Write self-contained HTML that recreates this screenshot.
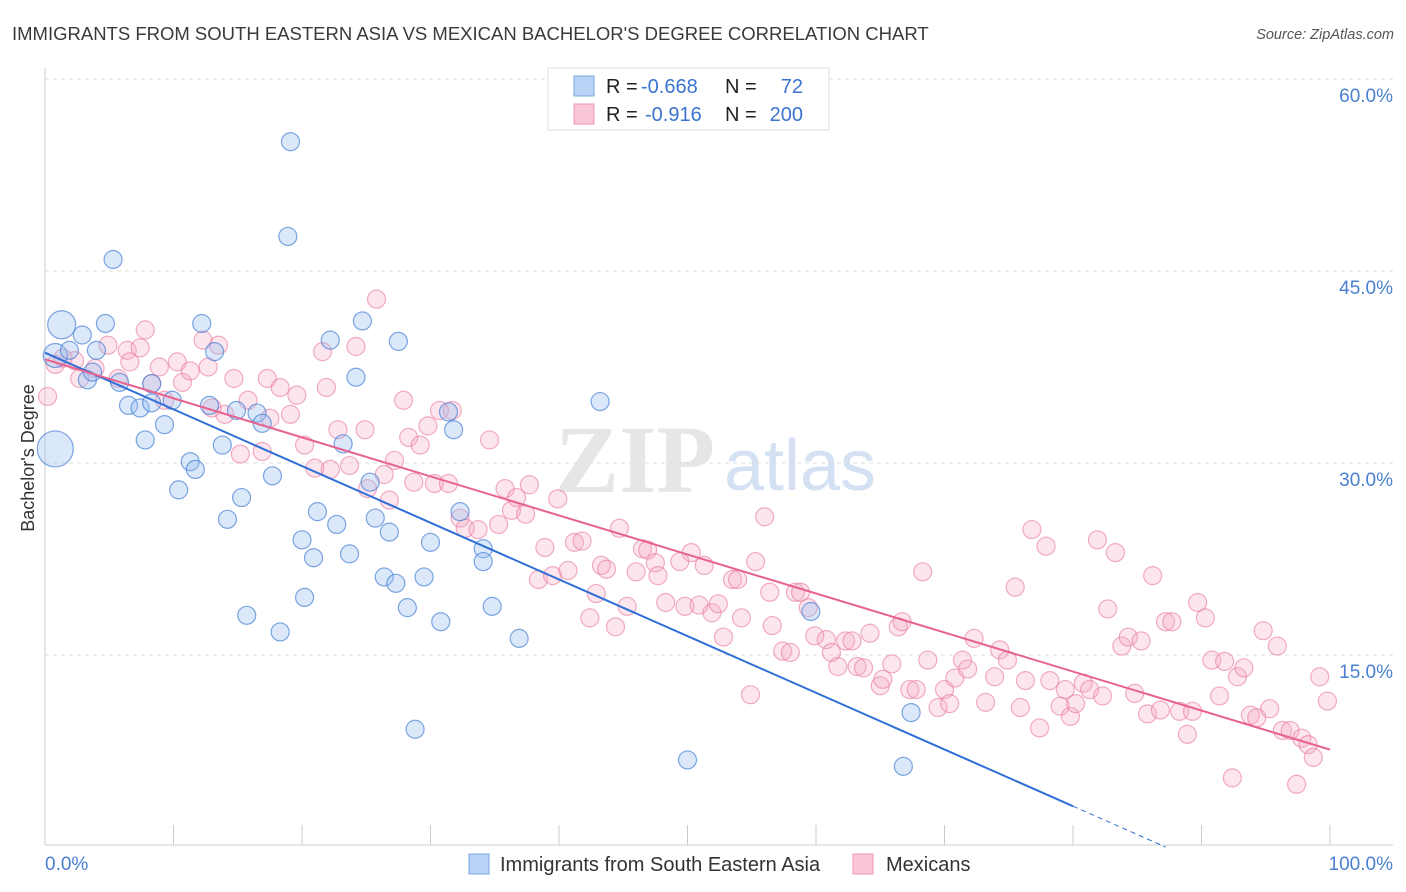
<!DOCTYPE html>
<html><head><meta charset="utf-8">
<style>
body{margin:0;background:#fff;}
svg{display:block;font-family:"Liberation Sans",sans-serif;}
</style></head>
<body>
<svg id="chart" width="1406" height="892">
<text x="12" y="40" font-size="18.5" fill="#3a3a3a">IMMIGRANTS FROM SOUTH EASTERN ASIA VS MEXICAN BACHELOR'S DEGREE CORRELATION CHART</text>
<text x="1394" y="39" font-size="14.5" fill="#555" font-style="italic" text-anchor="end">Source: ZipAtlas.com</text>
<text x="34" y="458" font-size="18" fill="#333" text-anchor="middle" transform="rotate(-90 34 458)">Bachelor's Degree</text>
<g>
<text x="635" y="492" font-size="96" font-family="Liberation Serif,serif" fill="#e6e6e6" text-anchor="middle" font-weight="bold">ZIP</text>
<text x="800" y="490" font-size="72" fill="#d3e1f2" text-anchor="middle">atlas</text>
</g>
<g id="grid"></g>
<g id="axes"></g>
<g id="pts"></g>
<g id="lines"></g>
<g>
<rect x="548" y="68" width="281" height="62" fill="#fff" stroke="#ddd"/>
<rect x="574" y="76" width="20" height="20" fill="#b8d3f5" stroke="#7aa6e4"/>
<rect x="574" y="104" width="20" height="20" fill="#f9c7d6" stroke="#ec94b0"/>
<text x="606" y="93" font-size="20" fill="#222">R = <tspan x="641" fill="#3b73d1">-0.668</tspan><tspan x="725">N = </tspan><tspan x="803" text-anchor="end" fill="#3b73d1">72</tspan></text>
<text x="606" y="121" font-size="20" fill="#222">R = <tspan x="645" fill="#3b73d1">-0.916</tspan><tspan x="725">N = </tspan><tspan x="803" text-anchor="end" fill="#3b73d1">200</tspan></text>
</g>
<g>
<rect x="469" y="854" width="20" height="20" fill="#b8d3f5" stroke="#7aa6e4"/>
<text x="500" y="871" font-size="20" fill="#333">Immigrants from South Eastern Asia</text>
<rect x="853" y="854" width="20" height="20" fill="#f9c7d6" stroke="#ec94b0"/>
<text x="886" y="871" font-size="20" fill="#333">Mexicans</text>
</g>
</svg>
<script>
const yTicks=[15,30,45,60];
const yTickLabels=["15.0%","30.0%","45.0%","60.0%"];
const xTicks=[0,10,20,30,40,50,60,70,80,90,100];
const xEndLabels=["0.0%","100.0%"];
const blueX=[19.1,18.9,5.3,1.3,4.7,12.2,2.9,24.7,22.2,27.5,0.8,4.0,1.9,13.2,5.8,3.3,3.7,24.2,8.3,6.5,7.4,8.3,9.9,14.9,12.8,16.5,16.9,31.4,43.2,9.3,7.8,13.8,23.2,31.8,0.8,11.3,11.7,17.7,10.4,15.3,25.3,14.2,21.2,22.7,25.7,32.3,26.8,20.0,30.0,20.9,23.7,34.1,34.1,26.4,27.3,29.5,20.2,28.2,34.8,15.7,30.8,18.3,36.9,59.6,28.8,50.0,67.4,66.8];
const blueY=[55.1,47.7,45.9,40.8,40.9,40.9,40.0,41.1,39.6,39.5,38.4,38.8,38.8,38.7,36.3,36.5,37.1,36.7,36.2,34.5,34.3,34.7,34.9,34.1,34.5,33.9,33.1,34.0,34.8,33.0,31.8,31.4,31.5,32.6,31.1,30.1,29.5,29.0,27.9,27.3,28.5,25.6,26.2,25.2,25.7,26.2,24.6,24.0,23.8,22.6,22.9,23.3,22.3,21.1,20.6,21.1,19.5,18.7,18.8,18.1,17.6,16.8,16.3,18.4,9.2,6.8,10.5,6.3];
const blueR=[9,9,9,14,9,9,9,9,9,9,12,9,9,9,9,9,9,9,9,9,9,9,9,9,9,9,9,9,9,9,9,9,9,9,18,9,9,9,9,9,9,9,9,9,9,9,9,9,9,9,9,9,9,9,9,9,9,9,9,9,9,9,9,9,9,9,9,9];
const pinkX=[0.2,0.8,2.3,2.7,1.4,3.9,4.9,5.7,6.4,6.6,7.4,7.8,8.3,8.9,9.3,10.3,10.7,11.3,12.3,12.7,13.5,13.0,14.0,14.7,15.2,15.8,16.9,17.3,18.3,17.5,19.1,19.6,20.2,21.0,21.6,21.9,22.2,22.8,23.7,24.2,24.9,25.8,25.1,26.4,26.8,27.2,27.9,28.3,29.2,29.8,28.7,30.3,30.7,31.7,31.4,32.3,32.7,33.7,34.6,35.3,35.8,36.7,36.3,37.4,37.7,38.9,38.4,39.5,39.9,40.7,41.2,41.8,42.4,42.9,43.3,43.7,44.4,44.7,45.3,46.0,46.5,46.9,47.5,47.7,48.3,49.4,49.8,50.3,50.9,51.3,51.9,52.4,52.8,53.5,53.9,54.2,54.9,55.3,56.0,56.4,56.6,57.4,58.0,58.4,58.8,59.4,59.9,60.8,61.2,61.7,62.3,62.8,63.2,63.7,64.2,65.0,65.2,65.9,66.4,66.7,67.3,67.8,68.3,68.7,69.5,70.0,70.4,70.8,71.4,71.8,72.3,73.2,73.9,74.3,74.9,75.5,75.9,76.3,76.8,77.4,77.9,78.2,79.0,79.4,79.8,80.2,80.8,81.3,81.9,82.3,82.7,83.3,83.8,84.3,84.8,85.3,85.8,86.2,86.8,87.2,87.7,88.3,88.9,89.3,89.7,90.3,90.8,91.4,91.8,92.4,92.8,93.3,93.8,94.3,94.8,95.3,95.9,96.3,96.9,97.4,97.8,98.3,98.7,99.2,99.8];
const pinkY=[35.2,37.7,38.0,36.6,38.2,37.4,39.2,36.6,38.8,37.9,39.0,40.4,36.2,37.5,34.9,37.9,36.3,37.2,39.6,37.5,39.2,34.3,33.8,36.6,30.7,34.9,30.9,36.6,35.9,33.5,33.8,35.3,31.4,29.6,38.7,35.9,29.5,32.6,29.8,39.1,32.6,42.8,28.0,29.1,27.1,30.2,34.9,32.0,31.4,32.9,28.5,28.4,34.1,34.1,28.4,25.7,24.9,24.8,31.8,25.2,28.0,27.3,26.3,26.0,28.3,23.4,20.9,21.2,27.2,21.6,23.8,23.9,17.9,19.8,22.0,21.7,17.2,24.9,18.8,21.5,23.3,23.2,22.2,21.2,19.1,22.3,18.8,23.0,18.9,22.0,18.3,19.0,16.4,20.9,20.9,17.9,11.9,22.3,25.8,19.9,17.3,15.3,15.2,19.9,19.9,18.7,16.5,16.2,15.2,14.1,16.1,16.1,14.1,14.0,16.7,12.6,13.1,14.3,17.2,17.6,12.3,12.3,21.5,14.6,10.9,12.3,11.2,13.2,14.6,13.9,16.3,11.3,13.3,15.4,14.6,20.3,10.9,13.0,24.8,9.3,23.5,13.0,11.0,12.3,10.2,11.2,12.8,12.3,24.0,11.8,18.6,23.0,15.7,16.4,12.0,16.1,10.4,21.2,10.7,17.6,17.6,10.6,8.8,10.6,19.1,17.9,14.6,11.8,14.5,5.4,13.3,14.0,10.3,10.1,16.9,10.8,15.7,9.1,9.1,4.9,8.5,8.0,7.0,13.3,11.4];
const NS="http://www.w3.org/2000/svg";
const X0=45,X1=1330,YB=847,YS=12.8;
function sx(v){return X0+(X1-X0)*v/100;}
function sy(v){return YB-v*YS;}
function mk(tag,attrs,parent){const e=document.createElementNS(NS,tag);for(const k in attrs)e.setAttribute(k,attrs[k]);parent.appendChild(e);return e;}
const grid=document.getElementById('grid'),axes=document.getElementById('axes'),pts=document.getElementById('pts'),lines=document.getElementById('lines');
yTicks.forEach((t,i)=>{
  const l=mk('line',{x1:X0,x2:1393,y1:sy(t),y2:sy(t),stroke:'#ddd','stroke-dasharray':'4 4'},grid);
  
  
  const tx=mk('text',{x:1393,y:sy(t)+23,'font-size':19,fill:'#4a7fd0','text-anchor':'end'},axes);
  tx.textContent=yTickLabels[i];
  
  
});
const ya=mk('line',{x1:X0,x2:X0,y1:68,y2:845,stroke:'#ccc'},axes);


const xa=mk('line',{x1:X0,x2:1393,y1:845,y2:845,stroke:'#ccc'},axes);


xTicks.forEach(t=>{
  const l=mk('line',{x1:sx(t),x2:sx(t),y1:825,y2:845,stroke:'#ccc'},axes);
  
  
});
const xl0=mk('text',{x:45,y:870,'font-size':19,fill:'#4a7fd0'},axes);xl0.textContent=xEndLabels[0];


const xl1=mk('text',{x:1393,y:870,'font-size':19,fill:'#4a7fd0','text-anchor':'end'},axes);xl1.textContent=xEndLabels[1];


pinkX.forEach((v,i)=>{
  const c=mk('circle',{cx:sx(v),cy:sy(pinkY[i]),r:9,fill:'rgba(246,170,195,0.3)',stroke:'rgba(232,120,158,0.6)','stroke-width':1.2},pts);
  
  
});
blueX.forEach((v,i)=>{
  const c=mk('circle',{cx:sx(v),cy:sy(blueY[i]),r:blueR[i],fill:'rgba(150,190,240,0.35)',stroke:'rgba(60,120,210,0.65)','stroke-width':1.2},pts);
  
  
});
function fit(xs,ys){const n=xs.length;let mx=0,my=0;xs.forEach((x,i)=>{mx+=x;my+=ys[i];});mx/=n;my/=n;let sxy=0,sxx=0;xs.forEach((x,i)=>{sxy+=(x-mx)*(ys[i]-my);sxx+=(x-mx)*(x-mx);});const b=sxy/sxx;return [my-b*mx,b];}
const [ba,bb]=fit(blueX,blueY);
const [pa,pb]=fit(pinkX,pinkY);
const bEnd=80,bZero=Math.min(100,-ba/bb);
const bl=mk('line',{x1:sx(0),y1:sy(ba),x2:sx(bEnd),y2:sy(ba+bb*bEnd),stroke:'#2f6fd6','stroke-width':2},lines);


const bd=mk('line',{x1:sx(bEnd),y1:sy(ba+bb*bEnd),x2:sx(bZero),y2:sy(ba+bb*bZero),stroke:'#2f6fd6','stroke-width':1,'stroke-dasharray':'5 4'},lines);


const pl=mk('line',{x1:sx(0),y1:sy(pa),x2:sx(100),y2:sy(pa+pb*100),stroke:'#e8628f','stroke-width':2},lines);


</script>
</body></html>
